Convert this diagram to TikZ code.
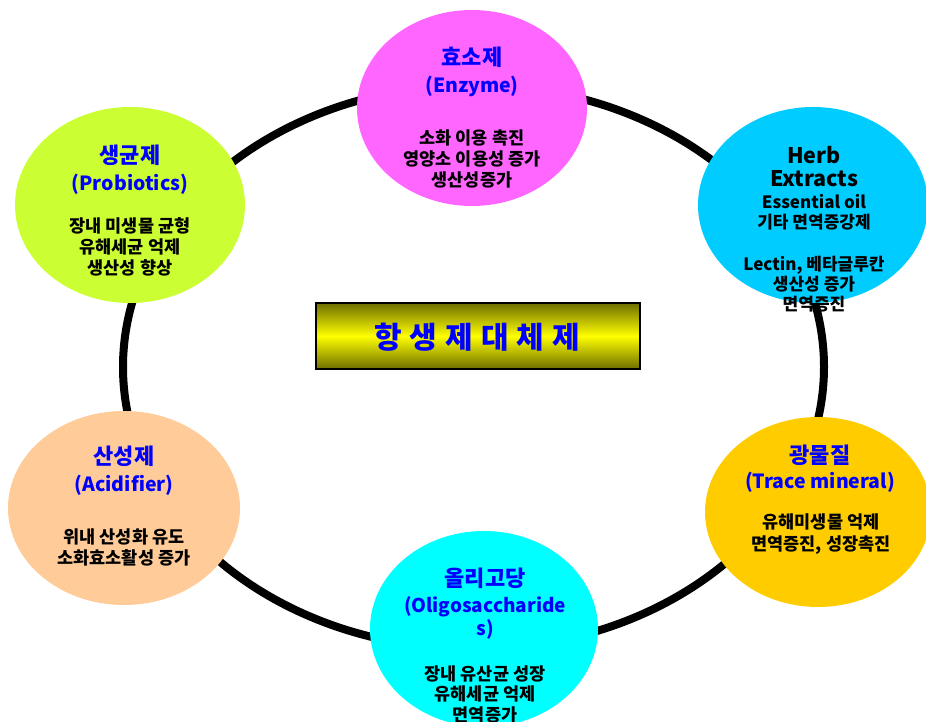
\documentclass[tikz,border=0pt]{standalone}
\usepackage{fontspec}
\setmainfont{Noto Sans CJK KR}
\usetikzlibrary{shapes.geometric}
\definecolor{cEnz}{HTML}{FF66FF}
\definecolor{cPro}{HTML}{CCFF33}
\definecolor{cHerb}{HTML}{00CCFF}
\definecolor{cAcid}{HTML}{FFCC99}
\definecolor{cTrace}{HTML}{FFCC00}
\definecolor{cOligo}{HTML}{00FFFF}
\definecolor{cBlue}{HTML}{0000FF}
\definecolor{cOlive}{HTML}{6E6E00}
\begin{document}
\begin{tikzpicture}[x=1pt,y=-1pt,
  blob/.style={ellipse,draw=none,inner sep=0pt,minimum width=230pt,minimum height=196pt},
  ttlK/.style={align=center,inner sep=0pt,text=cBlue,font=\fontsize{22}{26}\selectfont\bfseries},
  ttlL/.style={align=center,inner sep=0pt,text=cBlue,font=\fontsize{19.5}{23}\selectfont\bfseries},
  body/.style={align=center,inner sep=0pt,font=\fontsize{17.5}{21}\selectfont\bfseries},
  ringstyle/.style={line width=8pt,draw=black}]
\useasboundingbox (0,0) rectangle (926,722);
\fill[white] (0,0) rectangle (926,722);
% ring
\coordinate (rc) at (473.5,367);
\draw[ringstyle] (rc) ellipse [x radius=350.5pt, y radius=282pt];
% ellipses
\node[blob,fill=cEnz] (enz) at (472,108) {};
\node[blob,fill=cPro] (pro) at (130,205) {};
\node[blob,fill=cHerb] (herb) at (813,205) {};
\node[blob,fill=cAcid,minimum width=232pt,minimum height=194pt] (acid) at (124,508) {};
\node[blob,fill=cTrace,minimum width=226pt,minimum height=190pt] (trace) at (818,512) {};
\node[blob,fill=cOligo,minimum width=228pt] (oligo) at (484,629) {};
% enzyme
\node[ttlK] (enzT) at (472,57) {효소제};
\node[ttlL] (enzL) at (472,86) {(Enzyme)};
\node[body] (enzB) at (472,159) {소화 이용 촉진\\영양소 이용성 증가\\생산성증가};
% probiotics
\node[ttlK] (proT) at (130,155) {생균제};
\node[ttlL] (proL) at (130,184) {(Probiotics)};
\node[body] (proB) at (130,247) {장내 미생물 균형\\유해세균 억제\\생산성 향상};
% herb
\node[align=center,inner sep=0pt,font=\fontsize{21.5}{23}\selectfont\bfseries] (herbT) at (814,166.5) {Herb\\Extracts};
\node[align=center,inner sep=0pt,font=\fontsize{17}{20}\selectfont\bfseries] (herbS) at (814,212) {Essential oil\\기타 면역증강제};
\node[align=center,inner sep=0pt,font=\fontsize{17}{20}\selectfont\bfseries] (herbB) at (814,284) {Lectin, 베타글루칸\\생산성 증가\\면역증진};
% acidifier
\node[ttlK] (acidT) at (124,456) {산성제};
\node[ttlL] (acidL) at (124,485) {(Acidifier)};
\node[body] (acidB) at (124,547.5) {위내 산성화 유도\\소화효소활성 증가};
% trace mineral
\node[ttlK] (traceT) at (820,455) {광물질};
\node[ttlL] (traceL) at (820,482) {(Trace mineral)};
\node[body,font=\fontsize{17.5}{22}\selectfont\bfseries] (traceB) at (821,534) {유해미생물 억제\\면역증진, 성장촉진};
% oligo
\node[ttlK] (oligoT) at (485,578) {올리고당};
\node[ttlL,font=\fontsize{19}{23}\selectfont\bfseries] (oligoS) at (485,617.5) {(Oligosaccharide\\s)};
\node[body,font=\fontsize{17.5}{20.5}\selectfont\bfseries] (oligoB) at (485,694) {장내 유산균 성장\\유해세균 억제\\면역증가};
% center box
\shade[top color=cOlive,bottom color=cOlive,middle color=yellow] (316,303) rectangle (640,369);
\node[draw=black,line width=1.5pt,minimum width=324pt,minimum height=66pt,inner sep=0pt] (box) at (478,336) {};
\node[text=cBlue,font=\fontsize{30}{32}\selectfont\bfseries,inner sep=0pt] (boxT) at (477,337) {항\hspace{8pt}생\hspace{8pt}제\hspace{8pt}대\hspace{8pt}체\hspace{8pt}제};
\end{tikzpicture}
\end{document}
